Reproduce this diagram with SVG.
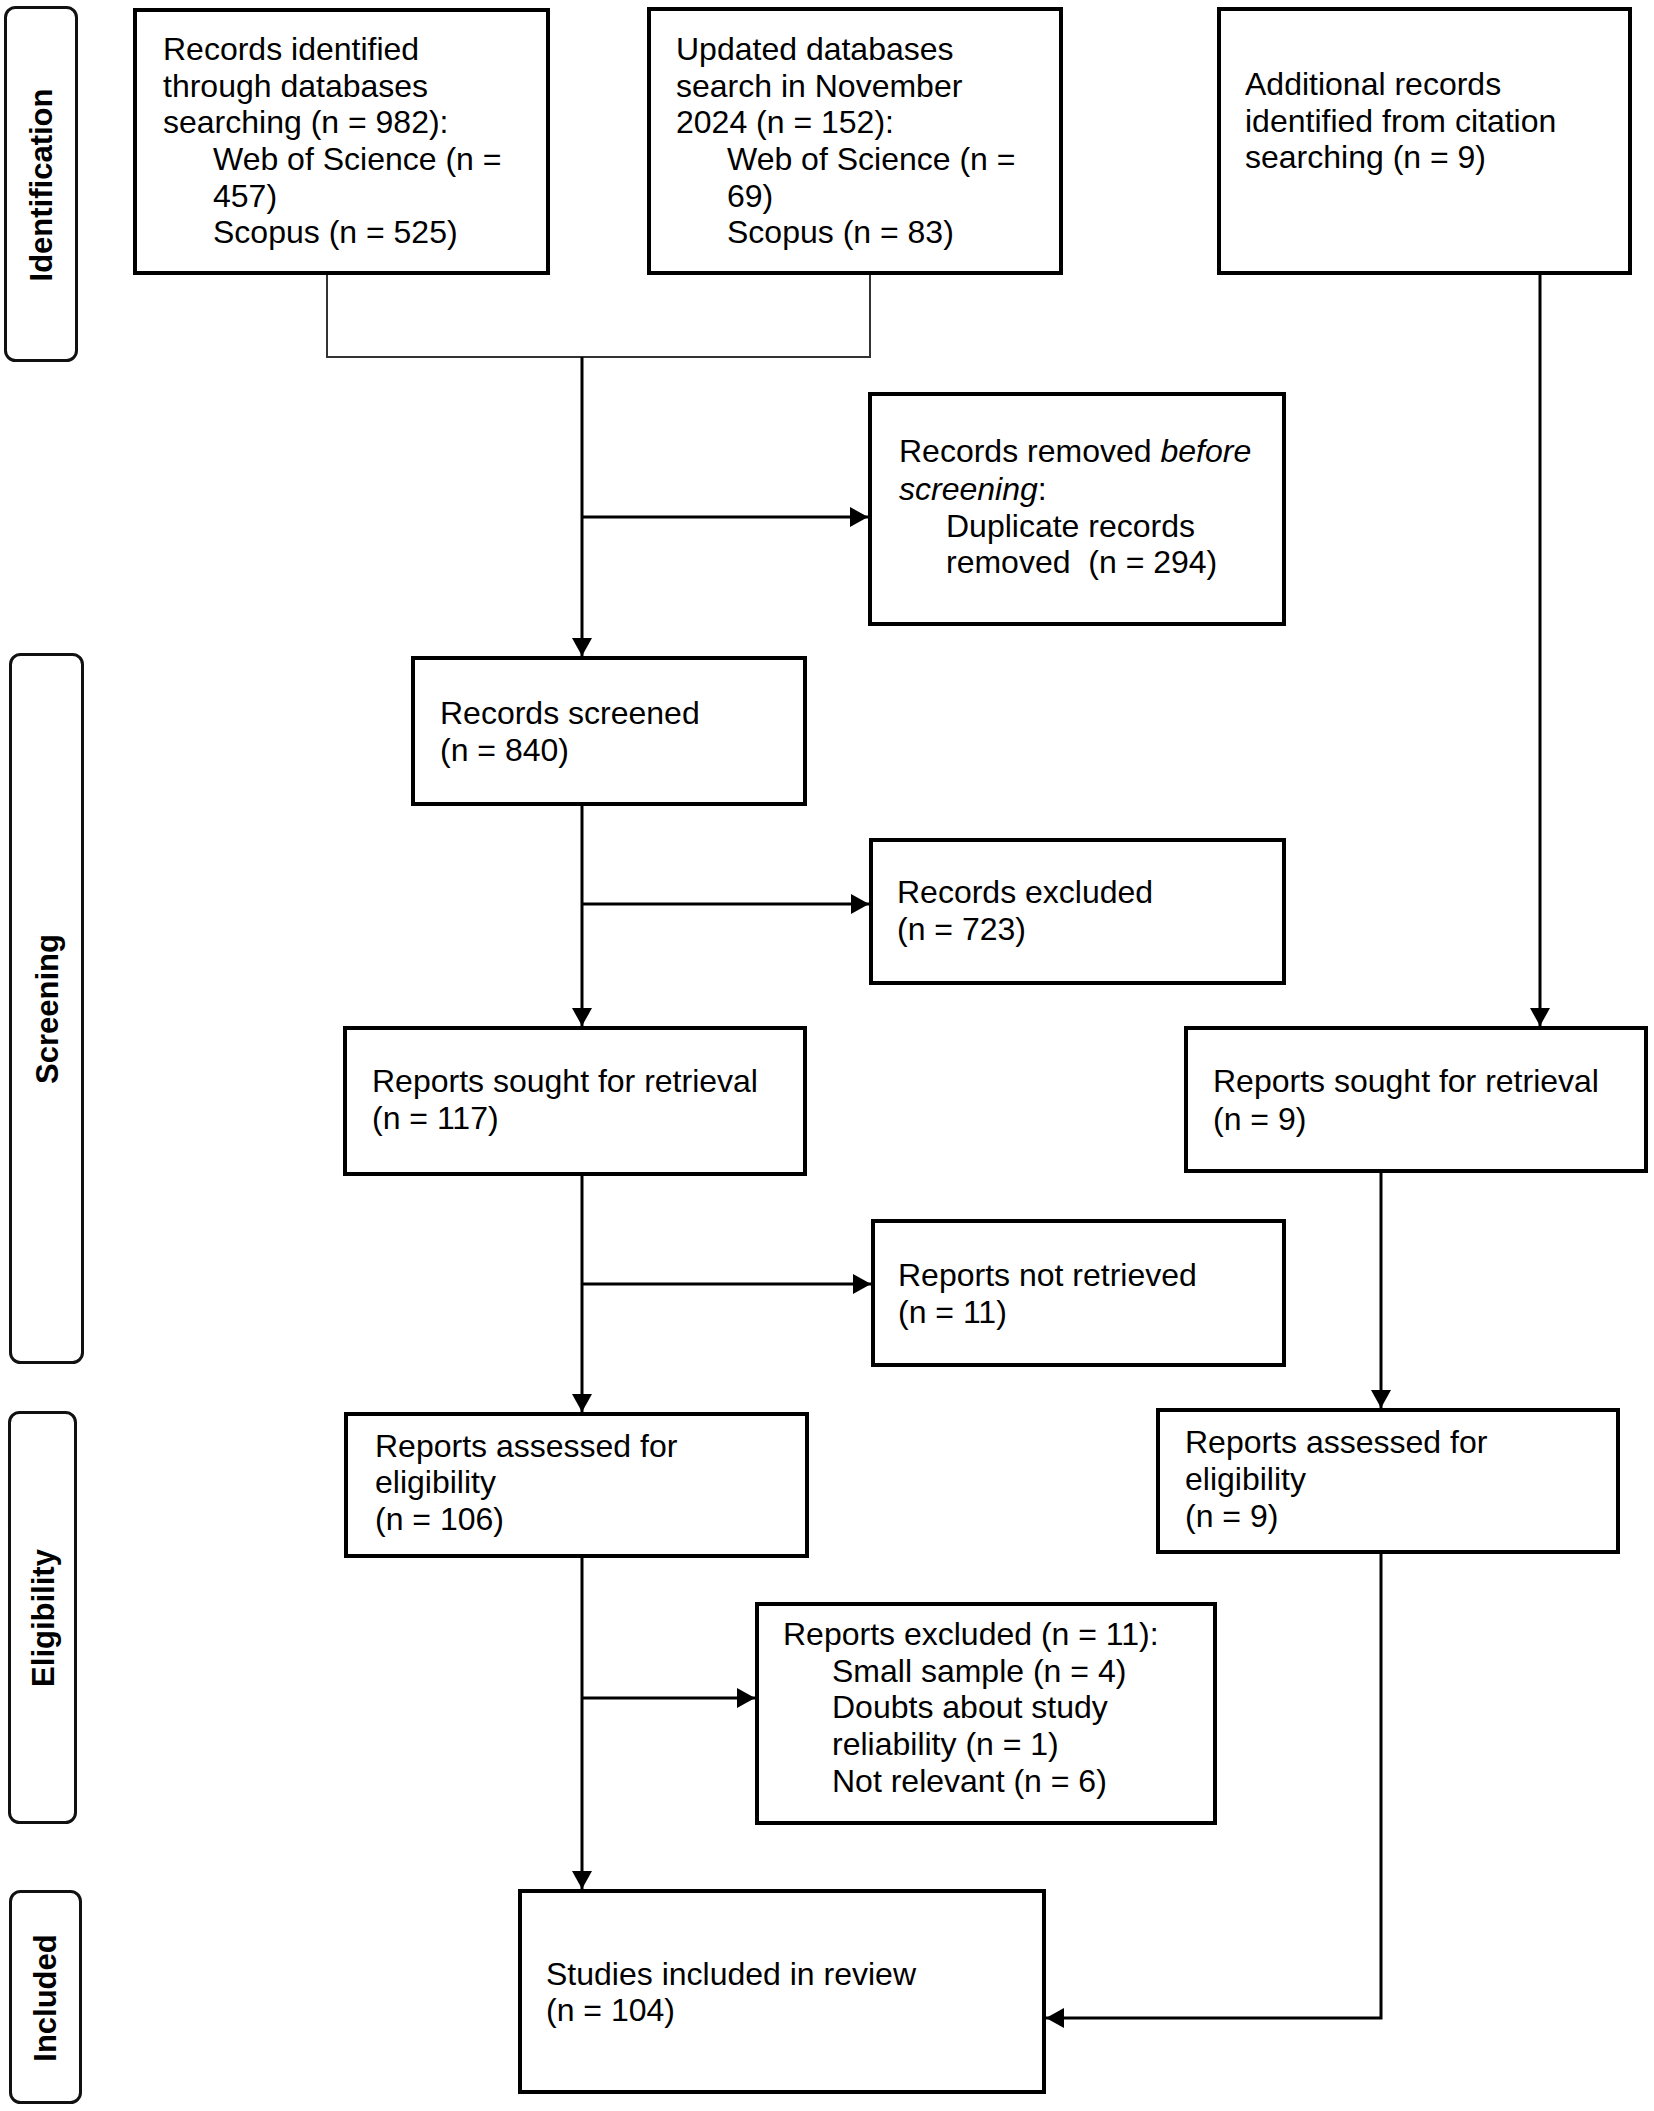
<svg xmlns="http://www.w3.org/2000/svg" width="1654" height="2111" viewBox="0 0 1654 2111">
<style>
.box{fill:#fff;stroke:#000;stroke-width:4}
.lab{fill:#fff;stroke:#111;stroke-width:3}
.t{font-family:"Liberation Sans",Arial,sans-serif;font-size:32px;fill:#000;white-space:pre}
.lt{font-family:"Liberation Sans",Arial,sans-serif;font-size:31px;font-weight:bold;fill:#000;text-anchor:middle}
.c{fill:none;stroke:#000;stroke-width:3}
.thin{fill:none;stroke:#333;stroke-width:2}
</style>
<defs>
<marker id="ah" markerUnits="userSpaceOnUse" markerWidth="18" markerHeight="20" viewBox="0 0 18 20" refX="18" refY="10" orient="auto">
<path d="M0,0 L18,10 L0,20 z" fill="#000"/>
</marker>
</defs>
<rect width="1654" height="2111" fill="#fff"/>

<g id="label-identification">
<rect class="lab" x="5.5" y="7.5" width="71" height="353" rx="10"/>
<text class="lt" transform="translate(41,185) rotate(-90)" y="11">Identification</text>
</g>
<g id="label-screening">
<rect class="lab" x="10.5" y="654.5" width="72" height="708" rx="10"/>
<text class="lt" transform="translate(47,1009) rotate(-90)" y="11">Screening</text>
</g>
<g id="label-eligibility">
<rect class="lab" x="9.5" y="1412.5" width="66" height="410" rx="10"/>
<text class="lt" transform="translate(43,1618) rotate(-90)" y="11">Eligibility</text>
</g>
<g id="label-included">
<rect class="lab" x="10.5" y="1891.5" width="70" height="211" rx="10"/>
<text class="lt" transform="translate(45,1998) rotate(-90)" y="11">Included</text>
</g>

<g id="connectors">
<path class="thin" d="M327 275 V357 H870 V275"/>
<path class="c" d="M582 357 V656" marker-end="url(#ah)"/>
<path class="c" d="M582 517 H868" marker-end="url(#ah)"/>
<path class="c" d="M582 806 V1026" marker-end="url(#ah)"/>
<path class="c" d="M582 904 H869" marker-end="url(#ah)"/>
<path class="c" d="M582 1176 V1412" marker-end="url(#ah)"/>
<path class="c" d="M582 1284 H871" marker-end="url(#ah)"/>
<path class="c" d="M582 1558 V1889" marker-end="url(#ah)"/>
<path class="c" d="M582 1698 H755" marker-end="url(#ah)"/>
<path class="c" d="M1540 275 V1026" marker-end="url(#ah)"/>
<path class="c" d="M1381 1173 V1408" marker-end="url(#ah)"/>
<path class="c" d="M1381 1554 V2018 H1046" marker-end="url(#ah)"/>
</g>

<g id="records-identified">
<rect class="box" x="135" y="10" width="413" height="263"/>
<text class="t" x="163" y="60">Records identified</text>
<text class="t" x="163" y="97">through databases</text>
<text class="t" x="163" y="133">searching (n = 982):</text>
<text class="t" x="213" y="170">Web of Science (n =</text>
<text class="t" x="213" y="207">457)</text>
<text class="t" x="213" y="243">Scopus (n = 525)</text>
</g>

<g id="updated-search">
<rect class="box" x="649" y="9" width="412" height="264"/>
<text class="t" x="676" y="60">Updated databases</text>
<text class="t" x="676" y="97">search in November</text>
<text class="t" x="676" y="133">2024 (n = 152):</text>
<text class="t" x="727" y="170">Web of Science (n =</text>
<text class="t" x="727" y="207">69)</text>
<text class="t" x="727" y="243">Scopus (n = 83)</text>
</g>

<g id="additional-records">
<rect class="box" x="1219" y="9" width="411" height="264"/>
<text class="t" x="1245" y="95">Additional records</text>
<text class="t" x="1245" y="132">identified from citation</text>
<text class="t" x="1245" y="168">searching (n = 9)</text>
</g>

<g id="records-removed">
<rect class="box" x="870" y="394" width="414" height="230"/>
<text class="t" x="899" y="462">Records removed <tspan font-style="italic">before</tspan></text>
<text class="t" x="899" y="500"><tspan font-style="italic">screening</tspan>:</text>
<text class="t" x="946" y="537">Duplicate records</text>
<text class="t" x="946" y="573">removed  (n = 294)</text>
</g>

<g id="records-screened">
<rect class="box" x="413" y="658" width="392" height="146"/>
<text class="t" x="440" y="724">Records screened</text>
<text class="t" x="440" y="761">(n = 840)</text>
</g>

<g id="records-excluded">
<rect class="box" x="871" y="840" width="413" height="143"/>
<text class="t" x="897" y="903">Records excluded</text>
<text class="t" x="897" y="940">(n = 723)</text>
</g>

<g id="reports-sought-left">
<rect class="box" x="345" y="1028" width="460" height="146"/>
<text class="t" x="372" y="1092">Reports sought for retrieval</text>
<text class="t" x="372" y="1129">(n = 117)</text>
</g>

<g id="reports-sought-right">
<rect class="box" x="1186" y="1028" width="460" height="143"/>
<text class="t" x="1213" y="1092">Reports sought for retrieval</text>
<text class="t" x="1213" y="1130">(n = 9)</text>
</g>

<g id="reports-not-retrieved">
<rect class="box" x="873" y="1221" width="411" height="144"/>
<text class="t" x="898" y="1286">Reports not retrieved</text>
<text class="t" x="898" y="1323">(n = 11)</text>
</g>

<g id="reports-assessed-left">
<rect class="box" x="346" y="1414" width="461" height="142"/>
<text class="t" x="375" y="1457">Reports assessed for</text>
<text class="t" x="375" y="1493">eligibility</text>
<text class="t" x="375" y="1530">(n = 106)</text>
</g>

<g id="reports-assessed-right">
<rect class="box" x="1158" y="1410" width="460" height="142"/>
<text class="t" x="1185" y="1453">Reports assessed for</text>
<text class="t" x="1185" y="1490">eligibility</text>
<text class="t" x="1185" y="1527">(n = 9)</text>
</g>

<g id="reports-excluded">
<rect class="box" x="757" y="1604" width="458" height="219"/>
<text class="t" x="783" y="1645">Reports excluded (n = 11):</text>
<text class="t" x="832" y="1682">Small sample (n = 4)</text>
<text class="t" x="832" y="1718">Doubts about study</text>
<text class="t" x="832" y="1755">reliability (n = 1)</text>
<text class="t" x="832" y="1792">Not relevant (n = 6)</text>
</g>

<g id="studies-included">
<rect class="box" x="520" y="1891" width="524" height="201"/>
<text class="t" x="546" y="1985">Studies included in review</text>
<text class="t" x="546" y="2021">(n = 104)</text>
</g>
</svg>
